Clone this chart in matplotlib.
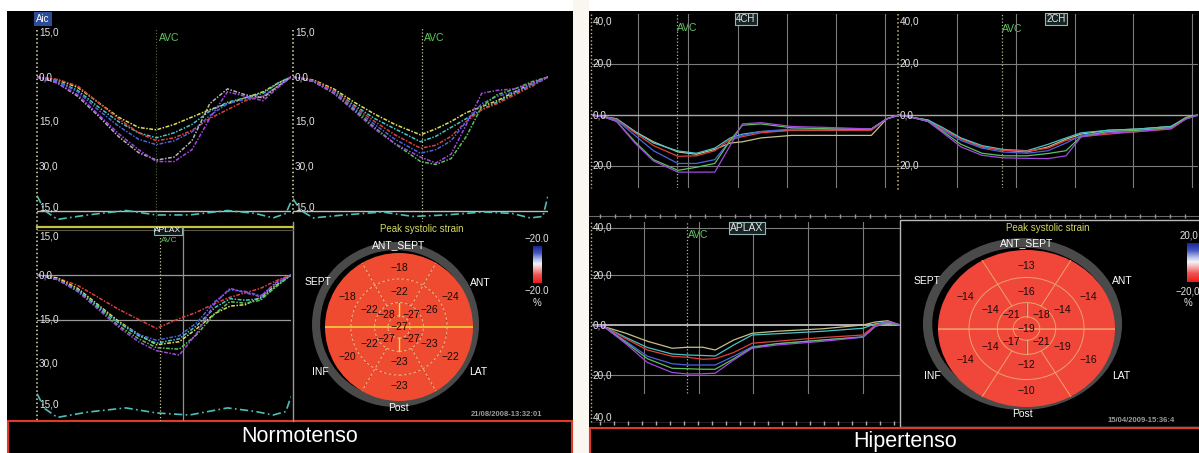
import numpy as np
import matplotlib
matplotlib.use("Agg")
import matplotlib.pyplot as plt
from matplotlib.patches import Rectangle, Wedge, Ellipse
from matplotlib.colors import LinearSegmentedColormap

plt.rcParams["font.family"] = ["Liberation Sans", "DejaVu Sans"]

W, H = 1199, 453

# ---- strain curves (time in % of cycle, strain in %) ----
# Normotenso, top-left view
t_n1 = [0, 8, 16, 24, 32, 40, 47, 54, 61, 68, 75, 82, 89, 95, 100]
n1_yellow = [0, -1.0, -3.5, -8.5, -13.5, -17.0, -17.8, -16.0, -13.5, -11.0, -9.0, -7.0, -5.0, -2.0, 0]
n1_cyan = [0, -1.5, -4.5, -10.0, -15.0, -18.8, -20.5, -18.8, -16.0, -11.5, -8.5, -7.0, -5.5, -2.0, 0]
n1_red = [0, -0.8, -3.0, -8.5, -14.0, -18.8, -21.5, -20.5, -18.0, -14.0, -11.0, -8.0, -6.5, -3.0, 0]
n1_blue = [0, -1.5, -5.0, -11.0, -16.5, -21.0, -22.8, -21.5, -18.5, -13.0, -9.0, -7.5, -6.5, -3.0, 0]
n1_purple = [0, -2.0, -6.0, -12.5, -19.0, -24.5, -28.5, -28.5, -24.5, -14.0, -5.0, -6.5, -8.0, -3.5, 0]
n1_gray = [0, -2.0, -6.5, -13.0, -20.0, -25.5, -28.0, -27.0, -21.5, -9.0, -4.0, -6.0, -7.0, -3.0, 0]

# Normotenso, top-right view
t_n2 = [0, 8, 16, 24, 32, 40, 50, 56, 62, 68, 74, 80, 87, 94, 100]
n2_yellow = [0, -1.0, -4.0, -8.5, -12.5, -16.0, -19.5, -17.5, -15.0, -12.0, -10.0, -8.0, -5.0, -2.0, 0]
n2_cyan = [0, -1.5, -4.5, -9.5, -14.0, -17.5, -21.8, -20.0, -17.0, -14.0, -11.0, -8.5, -5.5, -2.5, 0]
n2_red = [0, -1.2, -4.5, -10.0, -15.0, -19.5, -24.0, -23.0, -20.0, -15.0, -11.0, -9.0, -6.0, -3.0, 0]
n2_blue = [0, -1.5, -5.0, -10.5, -16.0, -21.0, -25.7, -24.5, -21.5, -15.0, -9.0, -6.5, -5.0, -2.5, 0]
n2_purple = [0, -1.5, -5.5, -11.5, -17.5, -22.5, -27.0, -29.0, -26.0, -16.0, -5.5, -4.5, -4.0, -2.0, 0]
n2_green = [0, -1.5, -5.5, -11.0, -17.0, -22.5, -28.5, -29.5, -27.5, -20.0, -10.0, -6.0, -4.0, -1.5, 0]

# Normotenso, APLAX
t_n3 = [0, 8, 16, 24, 32, 40, 47, 56, 63, 70, 76, 82, 88, 94, 100]
n3_red = [0, -1.0, -3.5, -7.5, -11.5, -15.0, -18.0, -14.7, -12.5, -9.6, -7.5, -6.0, -4.5, -2.0, 0]
n3_blue = [0, -1.5, -5.0, -10.5, -16.0, -20.0, -22.0, -20.5, -16.0, -9.0, -5.0, -5.5, -7.0, -3.0, 0]
n3_cyan = [0, -1.5, -5.0, -10.5, -16.0, -20.5, -23.0, -21.5, -17.0, -11.0, -8.0, -8.5, -8.0, -4.0, 0]
n3_green = [0, -1.5, -5.5, -11.0, -17.0, -21.5, -24.5, -25.0, -20.0, -13.0, -9.0, -9.5, -8.5, -4.0, 0]
n3_purple = [0, -1.5, -5.5, -11.5, -17.5, -22.5, -25.5, -27.0, -19.5, -9.5, -4.5, -6.0, -7.3, -2.5, 0]
n3_yellow = [0, -1.0, -4.5, -10.0, -15.5, -20.0, -23.5, -22.5, -18.0, -13.0, -10.5, -10.0, -7.5, -3.5, 0]

# strain-rate traces under the normotenso curves
t_sr = [0, 3, 8, 20, 35, 47, 60, 75, 86, 93, 98, 100]
sr_n1 = [-40, -45, -48, -46.5, -45, -46.5, -46.5, -45, -46, -47.5, -46, -42]
sr_n2 = [-41, -45, -47.5, -46.5, -45.5, -47, -46.5, -45.5, -46, -47.5, -47, -40]
sr_n3 = [-40, -45, -48, -46.2, -44.8, -46.5, -47.2, -44.8, -46, -47.2, -46, -41]

# Hipertenso, 4CH
t_h1 = [0, 4, 8, 14, 20, 28, 34, 40, 45, 49, 55, 65, 80, 91, 96, 100]
h1_purple = [0, -0.8, -2.5, -11.0, -18.0, -22.4, -22.4, -22.4, -12.0, -3.5, -3.0, -4.5, -5.0, -5.5, -1.5, 0]
h1_green = [0, -0.8, -2.5, -10.5, -17.5, -21.7, -20.5, -19.0, -10.0, -4.0, -3.5, -5.0, -5.5, -5.5, -1.5, 0]
h1_blue = [0, -0.8, -2.0, -8.0, -14.0, -19.0, -19.0, -17.5, -10.0, -8.0, -6.5, -5.5, -5.5, -5.5, -1.5, 0]
h1_red = [0, -0.7, -1.8, -7.0, -12.0, -16.2, -16.0, -14.0, -9.5, -8.5, -7.0, -6.0, -6.0, -6.0, -1.5, 0]
h1_khaki = [0, -0.7, -1.5, -6.5, -10.5, -14.5, -15.4, -13.5, -11.0, -10.5, -9.0, -8.0, -8.0, -8.0, -1.5, 0]
h1_cyan = [0, -0.7, -1.5, -6.5, -11.0, -14.1, -15.0, -13.0, -9.0, -7.5, -6.5, -6.0, -6.0, -5.5, -1.5, 0]

# Hipertenso, 2CH
t_h2 = [0, 5, 10, 15, 21, 28, 35, 43, 50, 56, 61, 70, 80, 91, 96, 100]
h2_khaki = [0, -1.0, -2.0, -5.5, -9.2, -12.5, -13.8, -14.5, -12.5, -9.5, -7.5, -6.0, -5.5, -4.5, -1.0, 0]
h2_cyan = [0, -1.0, -2.0, -5.0, -9.0, -12.0, -13.5, -14.0, -11.5, -9.0, -7.0, -6.0, -5.5, -4.5, -1.5, 0]
h2_red = [0, -1.0, -2.5, -5.5, -9.5, -12.5, -13.8, -14.2, -13.0, -10.0, -8.5, -7.5, -6.5, -5.5, -1.5, 0]
h2_purple = [0, -1.0, -2.5, -7.0, -12.5, -15.8, -16.8, -17.0, -17.1, -16.0, -8.6, -7.0, -6.5, -5.3, -1.5, 0]
h2_green = [0, -1.0, -2.5, -6.5, -11.5, -15.0, -16.0, -16.0, -15.1, -14.0, -8.5, -6.5, -6.0, -5.0, -1.0, 0]
h2_blue = [0, -1.0, -2.5, -6.0, -10.0, -13.0, -14.5, -15.0, -14.0, -11.0, -8.0, -6.5, -6.0, -5.0, -1.5, 0]

# Hipertenso, APLAX
t_h3 = [0, 4, 11, 18, 26, 31, 36, 40, 46, 52, 60, 75, 88, 92, 96, 100]
h3_khaki = [0, -0.7, -3.3, -6.5, -9.3, -8.9, -8.9, -10.0, -6.0, -3.3, -2.5, -1.5, 0.0, 1.2, 1.7, 0]
h3_cyan = [0, -0.7, -5.0, -9.0, -11.6, -12.0, -12.2, -12.4, -8.0, -4.0, -3.5, -2.5, -1.3, 0.5, 1.2, 0]
h3_red = [0, -0.7, -5.5, -10.0, -12.5, -12.9, -13.7, -13.5, -11.0, -7.3, -6.5, -5.0, -4.0, 0.0, 0.8, 0]
h3_blue = [0, -0.7, -6.5, -12.5, -15.5, -16.0, -16.0, -16.0, -12.5, -8.7, -7.5, -6.0, -4.7, -0.5, 0.8, 0]
h3_green = [0, -0.8, -7.0, -13.5, -17.3, -17.5, -17.7, -17.7, -13.5, -9.0, -7.5, -6.0, -4.8, -0.5, 0.8, 0]
h3_purple = [0, -0.8, -7.5, -15.0, -19.0, -19.6, -19.5, -19.3, -14.0, -9.3, -8.0, -6.5, -4.9, -0.5, 1.5, 0]

# ---- peak systolic strain, 17 segments ----
# basal / mid order: ANT_SEPT, SEPT, INF, Post, LAT, ANT
# apical order: upper-left, lower-left, lower-right, upper-right
norm_basal = [-18, -18, -20, -23, -22, -24]
norm_mid = [-22, -22, -22, -23, -23, -26]
norm_apical = [-28, -27, -27, -27]
norm_apex = -27

hip_basal = [-13, -14, -14, -10, -16, -14]
hip_mid = [-16, -14, -14, -12, -19, -14]
hip_apical = [-21, -17, -21, -18]
hip_apex = -19

segment_names = ["ANT_SEPT", "SEPT", "ANT", "INF", "LAT", "Post"]

C = {"yellow": "#dede5a", "cyan": "#48c4c8", "red": "#e0403a", "blue": "#4a64e0",
     "purple": "#a448e0", "gray": "#b4b4b4", "green": "#5cc05c", "khaki": "#c8c088"}
TXT = "#e6e6e6"
AVC_GREEN = "#5ec65e"

fig = plt.figure(figsize=(W / 100, H / 100), dpi=100, facecolor="white")
bg = fig.add_axes([0, 0, 1, 1])
bg.set_xlim(0, W)
bg.set_ylim(H, 0)
bg.axis("off")

# panels
bg.add_patch(Rectangle((7, 11), 566, 442, fc="black", ec="none"))
bg.add_patch(Rectangle((573, 0), 16, H, fc="#f9f7ef", ec="none"))
bg.add_patch(Rectangle((589, 11), 612, 442, fc="black", ec="none"))


def strain_axes(x0, x1, ytop, ybot, yzero, ppu):
    ax = fig.add_axes([x0 / W, 1 - ybot / H, (x1 - x0) / W, (ybot - ytop) / H])
    ax.set_xlim(0, 100)
    ax.set_ylim(-(ybot - yzero) / ppu, (yzero - ytop) / ppu)
    ax.axis("off")
    return ax


def ylabels(ax, vals, labs, fs=7.2, dx=0.8):
    for v, s in zip(vals, labs):
        ax.text(dx, v, s, color=TXT, fontsize=fs, ha="left", va="center", clip_on=False)


def top_text(x, y, s, **kw):
    # text in pixel coordinates, drawn above every axes
    return fig.text(x, y, s, transform=bg.transData, **kw)


DOT = (0, (2.5, 1.0, 1.0, 1.0))

# ---------------- Normotenso ----------------
ppu_n = 44.5 / 15
ax1 = strain_axes(37, 291, 28, 222, 77, ppu_n)
ax2 = strain_axes(293, 548, 28, 222, 77, ppu_n)
ax3 = strain_axes(37, 291, 228, 421, 275, ppu_n)

for ax in (ax1, ax2):
    ax.axhline(-45, color="#bdbdbd", lw=1.0)
ax3.axhline(0, color="#9a9a9a", lw=0.9)
ax3.axhline(-15, color="#9a9a9a", lw=0.9)

ax1.axvline(47, color="#556a3a", lw=0.8, ls=":")
ax2.axvline(50.6, color="#c8c8a0", lw=0.9, ls=":")
ax3.axvline(48.4, color="#c8c8a0", lw=0.9, ls=":")
ax3.axvline(57.5, color="#909090", lw=0.9)

for name, y in [("yellow", n1_yellow), ("cyan", n1_cyan), ("red", n1_red),
                ("blue", n1_blue), ("gray", n1_gray), ("purple", n1_purple)]:
    ax1.plot(t_n1, y, color=C[name], lw=1.1, ls=DOT)
for name, y in [("yellow", n2_yellow), ("cyan", n2_cyan), ("red", n2_red),
                ("blue", n2_blue), ("green", n2_green), ("purple", n2_purple)]:
    ax2.plot(t_n2, y, color=C[name], lw=1.1, ls=DOT)
for name, y in [("red", n3_red), ("yellow", n3_yellow), ("blue", n3_blue),
                ("cyan", n3_cyan), ("green", n3_green), ("purple", n3_purple)]:
    ax3.plot(t_n3, y, color=C[name], lw=1.1, ls=DOT)
for ax, sr in ((ax1, sr_n1), (ax2, sr_n2), (ax3, sr_n3)):
    ax.plot(t_sr, sr, color="#4cc0b8", lw=1.2, ls=(0, (5, 2, 1, 2)))

n_vals = [15, 0, -15, -30, -44]
n_labs = ["15,0", "0,0", "15,0", "30,0", "15,0"]
ylabels(ax1, n_vals, n_labs)
ylabels(ax2, n_vals, n_labs)
ylabels(ax3, [13, 0, -15, -30, -43.5], n_labs)

# chart frames
bg.plot([37, 37], [30, 420], color="#e2e2b4", lw=1.1, ls=":")
bg.plot([293, 293], [30, 214], color="#e2e2b4", lw=1.1, ls=":")
bg.plot([293, 293], [222, 421], color="#9a9a9a", lw=1.0)
bg.plot([37, 293], [227, 227], color="#c8c040", lw=1.6)
bg.plot([37, 293], [229.5, 229.5], color="#5a5a40", lw=0.8)

bg.text(43, 19, "Aic", color="white", fontsize=7, ha="center", va="center",
        bbox=dict(boxstyle="square,pad=0.25", fc="#2d4c98", ec="none"))
bg.text(169, 38, "AVC", color=AVC_GREEN, fontsize=7.5, ha="center", va="center")
bg.text(434, 38, "AVC", color=AVC_GREEN, fontsize=7.5, ha="center", va="center")
top_text(168, 231, "APLAX", color="white", fontsize=6, ha="center", va="center",
         bbox=dict(boxstyle="square,pad=0.1", fc="#101818", ec="#8ab0b0", lw=0.8))
top_text(169, 240, "AVC", color=AVC_GREEN, fontsize=6, ha="center", va="center")

# ---------------- Hipertenso ----------------
ppu_h = 51 / 20
ax4 = strain_axes(592, 899, 14, 188, 115, ppu_h)
ax5 = strain_axes(898, 1198, 14, 188, 115, ppu_h)
ax6 = strain_axes(592, 900, 222, 423, 325, 2.5)

grid_4ch = [15.0, 31.3, 47.6, 63.5, 79.5, 95.4]
grid_2ch = [19.7, 39.3, 59.0, 78.3, 98.0]
grid_aplax = [16.9, 34.7, 52.3, 70.1, 88.0]
for ax, gx in ((ax4, grid_4ch), (ax5, grid_2ch)):
    for g in gx:
        ax.axvline(g, color="#7c7c7c", lw=0.8)
    for v in (40, 20, -20):
        ax.axhline(v, color="#7c7c7c", lw=0.8)
    ax.axhline(0, color="#a8a8a8", lw=1.0)
for g in grid_aplax:
    ax6.axvline(g, ymin=0.15, color="#7c7c7c", lw=0.8)
for v in (39, 20, -20):
    ax6.axhline(v, color="#7c7c7c", lw=0.8)
ax6.axhline(0, color="#bdbdbd", lw=1.3)
ax6.axhline(-39.2, color="#a0a0a0", lw=1.0)

ax4.axvline(27.7, color="#b8b890", lw=0.9, ls=":")
ax5.axvline(34.7, color="#b8b890", lw=0.9, ls=":")
ax6.axvline(30.8, ymin=0.15, color="#b8b890", lw=0.9, ls=":")

for name, y in [("khaki", h1_khaki), ("cyan", h1_cyan), ("red", h1_red),
                ("blue", h1_blue), ("green", h1_green), ("purple", h1_purple)]:
    ax4.plot(t_h1, y, color=C[name], lw=0.9)
for name, y in [("khaki", h2_khaki), ("cyan", h2_cyan), ("red", h2_red),
                ("blue", h2_blue), ("green", h2_green), ("purple", h2_purple)]:
    ax5.plot(t_h2, y, color=C[name], lw=0.9)
for name, y in [("khaki", h3_khaki), ("cyan", h3_cyan), ("red", h3_red),
                ("blue", h3_blue), ("green", h3_green), ("purple", h3_purple)]:
    ax6.plot(t_h3, y, color=C[name], lw=0.9)

h_vals = [36.5, 20, 0, -20]
h_labs = ["40,0", "20,0", "0,0", "20,0"]
ylabels(ax4, h_vals, h_labs, dx=0.1)
ylabels(ax5, h_vals, h_labs, dx=0.6)
ylabels(ax6, [39, 20, 0, -20, -37], ["40,0", "20,0", "0,0", "20,0", "40,0"], dx=0.1)

bg.plot([591, 591], [14, 188], color="#c8c070", lw=1.0, ls=":")
bg.plot([898, 898], [14, 190], color="#c8c070", lw=1.1, ls=":")
bg.plot([591, 591], [222, 423], color="#c8c070", lw=1.0, ls=":")
bg.plot([589, W], [216, 216], color="#6a6a6a", lw=0.8)
tick_x = np.arange(600, W, 15)
bg.plot(tick_x, np.full(tick_x.size, 216), ls="none", marker="|", ms=2.5, color="#9a9a9a")
tick_x = np.arange(600, 900, 14)
bg.plot(tick_x, np.full(tick_x.size, 423), ls="none", marker="|", ms=3, color="#b0b0b0")

bg.text(687, 28, "AVC", color=AVC_GREEN, fontsize=7.5, ha="center", va="center")
bg.text(1012, 29, "AVC", color=AVC_GREEN, fontsize=7.5, ha="center", va="center")
bg.text(698, 235, "AVC", color=AVC_GREEN, fontsize=7.5, ha="center", va="center")
box = dict(boxstyle="square,pad=0.12", fc="#152424", ec="#9ab4b4", lw=0.8)
top_text(746, 19, "4CH", color=TXT, fontsize=7, ha="center", va="center", bbox=box)
top_text(1056, 19, "2CH", color=TXT, fontsize=7, ha="center", va="center", bbox=box)
top_text(747, 228, "APLAX", color=TXT, fontsize=7.5, ha="center", va="center", bbox=box)

bg.add_patch(Rectangle((900, 220), 305, 207, fill=False, ec="#b8b8b8", lw=1.0))

# ---------------- bull's-eye plots ----------------
SIX = [90, 150, 210, 270, 330, 30]
FOUR = [135, 225, 315, 45]
R_MID, R_API, R_APEX = 0.65, 0.33, 0.15


def bullseye(box_px, basal, mid, apical, apex, face, ring, line_color, line_style, axis_color):
    x0, y0, x1, y1 = box_px
    ax = fig.add_axes([x0 / W, 1 - y1 / H, (x1 - x0) / W, (y1 - y0) / H])
    ax.set_xlim(-1, 1)
    ax.set_ylim(-1, 1)
    ax.axis("off")
    rc, rw, rh, tx, ty = ring
    ax.add_patch(Ellipse(rc, rw, rh, fc="#4a4a4a", ec="none", clip_on=False))
    ax.add_patch(Ellipse(rc, rw - 2 * tx, rh - 2 * ty, fc="black", ec="none", clip_on=False))
    for ang, v in zip(SIX, basal):
        ax.add_patch(Wedge((0, 0), 1, ang - 30, ang + 30, width=1 - R_MID, fc=face, ec="none"))
    for ang, v in zip(SIX, mid):
        ax.add_patch(Wedge((0, 0), R_MID, ang - 30, ang + 30, width=R_MID - R_API, fc=face, ec="none"))
    for ang, v in zip(FOUR, apical):
        ax.add_patch(Wedge((0, 0), R_API, ang - 45, ang + 45, width=R_API - R_APEX, fc=face, ec="none"))
    ax.add_patch(Ellipse((0, 0), 2 * R_APEX, 2 * R_APEX, fc=face, ec="none"))

    for r in (R_MID, R_API, R_APEX):
        ax.add_patch(Ellipse((0, 0), 2 * r, 2 * r, fill=False, ec=line_color, lw=0.7, ls=line_style))
    for b in (60, 120, 240, 300):
        a = np.radians(b)
        ax.plot([R_API * np.cos(a), np.cos(a)], [R_API * np.sin(a), np.sin(a)],
                color=line_color, lw=0.7, ls=line_style)
    for b in (90, 270):
        a = np.radians(b)
        ax.plot([R_APEX * np.cos(a), R_API * np.cos(a)], [R_APEX * np.sin(a), R_API * np.sin(a)],
                color=axis_color, lw=1.0)
    ax.plot([-1, 1], [0, 0], color=axis_color, lw=1.1)

    def lab(r, ang, v):
        a = np.radians(ang)
        ax.text(r * np.cos(a), r * np.sin(a), "\u2212%d" % abs(v), fontsize=7.5,
                color="#1a0808", ha="center", va="center")

    for ang, v in zip(SIX, basal):
        lab(0.8, ang, v)
    for ang, v in zip(SIX, mid):
        lab(0.47, ang, v)
    for ang, v in zip(FOUR, apical):
        lab(0.235, ang, v)
    lab(0, 0, apex)
    return ax


bullseye((325, 253, 473, 401), norm_basal, norm_mid, norm_apical, norm_apex,
         "#ef4b30", ((-0.047, 0.034), 2.257, 2.23, 0.11, 0.11),
         "#f6b884", (0, (3, 2)), "#f0dc3c")
bullseye((938, 250, 1115, 407), hip_basal, hip_mid, hip_apical, hip_apex,
         "#f1463a", ((-0.045, 0.057), 2.25, 2.19, 0.105, 0.12),
         "#f5a66e", "-", "#f5a66e")

# segment names around each plot
norm_name_xy = [(399, 245), (318, 282), (480, 283), (320, 372), (478, 372), (398, 408)]
hip_name_xy = [(1027, 243), (927, 281), (1122, 281), (932, 376), (1121, 376), (1022, 414)]
for (x, y), s in zip(norm_name_xy, segment_names):
    top_text(x, y, s, color="white", fontsize=7.5, ha="center", va="center")
for (x, y), s in zip(hip_name_xy, segment_names):
    top_text(x, y, s, color="white", fontsize=7.5, ha="center", va="center")

bg.text(422, 229, "Peak systolic strain", color="#d8d860", fontsize=7, ha="center", va="center")
bg.text(1048, 228, "Peak systolic strain", color="#d8d860", fontsize=7, ha="center", va="center")

# colour scales (red at -20, blue at +20)
cmap = LinearSegmentedColormap.from_list(
    "strain", [(0.0, "#ec1c1c"), (0.22, "#f05454"), (0.42, "#f6c4c4"),
               (0.52, "#f4f4f8"), (0.64, "#b4bee8"), (0.82, "#4456c0"),
               (1.0, "#18269a")])
grad = np.linspace(1, 0, 64).reshape(-1, 1)
bg.imshow(grad, cmap=cmap, extent=(533, 542, 283, 246), aspect="auto",
          origin="upper", zorder=4)
bg.imshow(grad, cmap=cmap, extent=(1187, 1200, 282, 243), aspect="auto",
          origin="upper", zorder=4)
bg.set_xlim(0, W)
bg.set_ylim(H, 0)
bg.text(537, 239, "\u221220.0", color=TXT, fontsize=7, ha="center", va="center")
bg.text(537, 291, "\u221220.0", color=TXT, fontsize=7, ha="center", va="center")
bg.text(537, 303, "%", color=TXT, fontsize=7, ha="center", va="center")
bg.text(1180, 236, "20,0", color=TXT, fontsize=7, ha="left", va="center")
bg.text(1175, 292, "\u221220,0", color=TXT, fontsize=7, ha="left", va="center")
bg.text(1188, 303, "%", color=TXT, fontsize=7, ha="center", va="center")

bg.text(507, 414, "21/08/2008-13:32:01", color="#9c9c9c", fontsize=5.5,
        fontweight="bold", ha="center", va="center")
bg.text(1108, 421, "15/04/2009-15:36:4", color="#9c9c9c", fontsize=5.5,
        fontweight="bold", ha="left", va="center")

# group titles
bg.add_patch(Rectangle((8, 421), 564, 40, fc="black", ec="#e0392a", lw=1.5))
bg.add_patch(Rectangle((590, 428), 615, 30, fc="black", ec="#e0392a", lw=1.5))
bg.text(300, 436, "Normotenso", color="white", fontsize=15.5, ha="center", va="center")
bg.text(905, 441, "Hipertenso", color="white", fontsize=15.5, ha="center", va="center")

fig.savefig("out.png", dpi=100, facecolor="white")
